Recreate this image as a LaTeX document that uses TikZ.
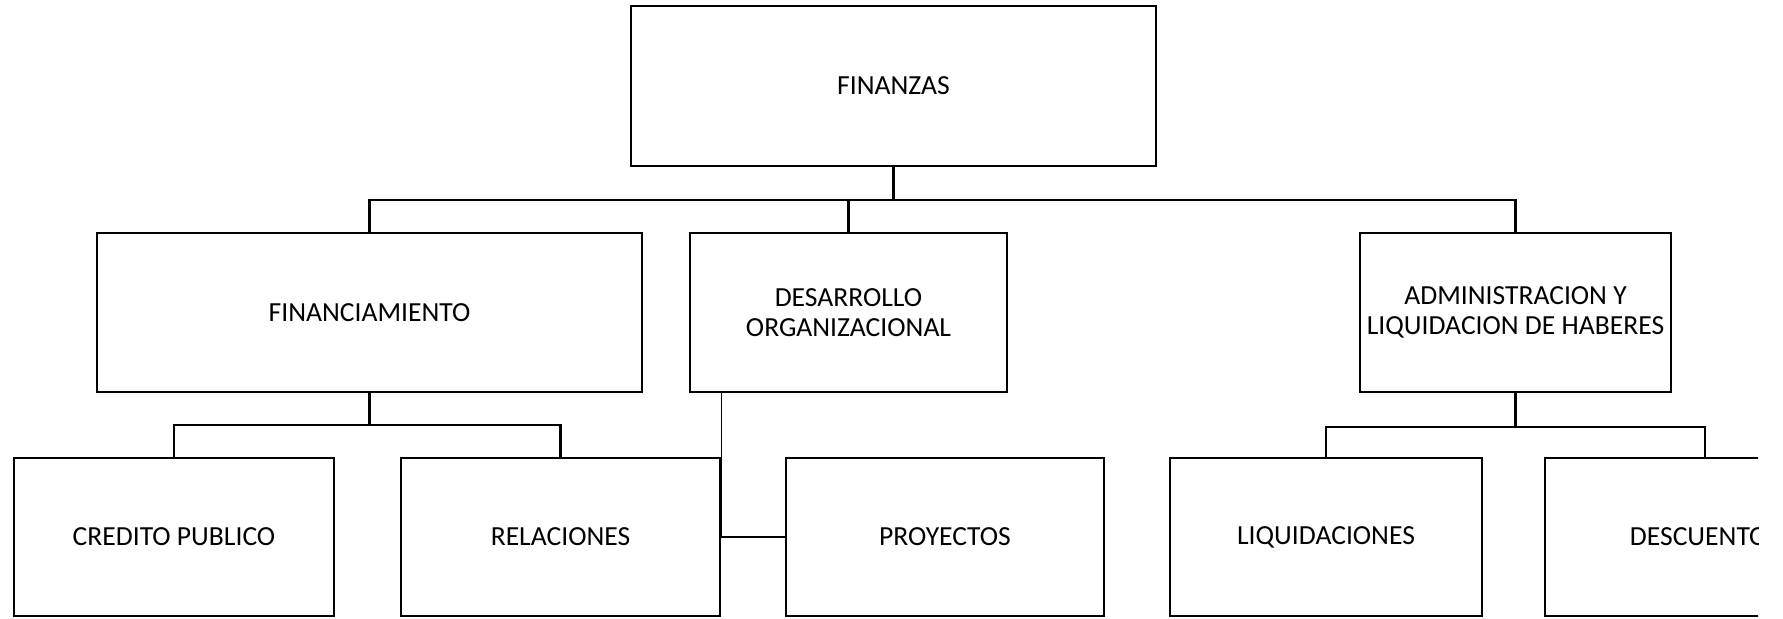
\documentclass[tikz,border=0pt]{standalone}
\usepackage{fontspec}
\setmainfont{Carlito}
\usepackage{tikz}
\usetikzlibrary{shapes.geometric, arrows}
\tikzstyle{rec} = [rectangle,minimum height=79.5pt,text centered,draw=black,line width=1.3pt]
\tikzstyle{link} = [line width=1.1pt]
\tikzstyle{thinlink} = [line width=0.7pt]

\begin{document}
\begin{tikzpicture}[x=0.5pt,y=-0.5pt,align=center,font=\fontsize{13.8}{15}\selectfont]
        \useasboundingbox (0,0) rectangle (1783,618);
        \clip (0,0) rectangle (1758,618);
        \node (finanzas) [rec, minimum width=262.5pt, minimum height=80pt] at (893.5,86) {FINANZAS};
        \node (financiamiento) [rec, minimum width=272.5pt] at (369.5,312.5) {FINANCIAMIENTO};
        \node (desarrollo) [rec, minimum width=158.5pt, right of=financiamiento, node distance=239.5pt] {DESARROLLO\\ORGANIZACIONAL};
        \node (admin) [rec, minimum width=155.5pt, right of=desarrollo, node distance=333.5pt] {ADMINISTRACION Y\\LIQUIDACION DE HABERES};
        \node (credito) [rec, minimum width=160pt, minimum height=79pt] at (174,537) {CREDITO PUBLICO};
        \node (relaciones) [rec, minimum width=159.5pt, minimum height=79pt, right of=credito, node distance=193.25pt] {RELACIONES};
        \node (proyectos) [rec, minimum width=159pt, minimum height=79pt, right of=relaciones, node distance=192.25pt] {PROYECTOS};
        \node (liquidaciones) [rec, minimum width=156pt, minimum height=79pt, right of=proyectos, node distance=190.5pt] {LIQUIDACIONES};
        \node (descuentos) [rec, minimum width=160pt, minimum height=79pt, right of=liquidaciones, node distance=189.5pt] {DESCUENTO\phantom{S}};
        \draw [link] (finanzas.south) -- ++(0,33) coordinate (hubtop);
        \draw [link] (hubtop) -| (financiamiento.north);
        \draw [link] (hubtop) -| (desarrollo.north);
        \draw [link] (hubtop) -| (admin.north);
        \draw [link] (financiamiento.south) -- ++(0,32) coordinate (hubfin);
        \draw [link] (hubfin) -| (credito.north);
        \draw [link] (hubfin) -| (relaciones.north);
        \draw [thinlink] (desarrollo.south -| relaciones.east) |- (proyectos.west);
        \draw [link] (admin.south) -- ++(0,34) coordinate (hubadm);
        \draw [link] (hubadm) -| (liquidaciones.north);
        \draw [link] (hubadm) -| (descuentos.north);
    \end{tikzpicture}
\end{document}
